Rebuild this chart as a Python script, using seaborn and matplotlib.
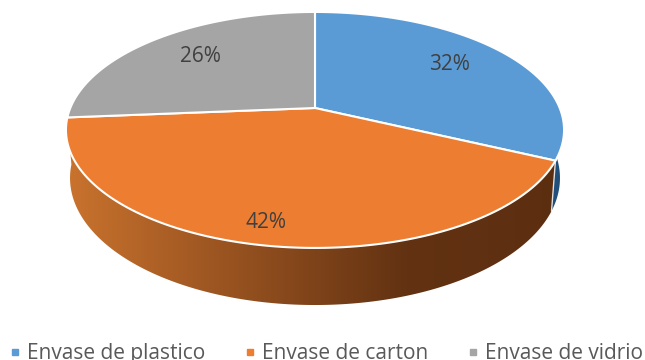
import numpy as np
import matplotlib
matplotlib.use("Agg")
import matplotlib.pyplot as plt
import seaborn as sns
from matplotlib.patches import Polygon
from matplotlib.colors import LinearSegmentedColormap

categories = ["Envase de plastico", "Envase de carton", "Envase de vidrio"]
values = [32, 41.7, 26.3]
labels = ["32%", "42%", "26%"]
colors = ["#5B9BD5", "#ED7D31", "#A5A5A5"]

sns.set_theme(style="white")
plt.rcParams["font.family"] = ["Open Sans", "DejaVu Sans"]
palette = sns.color_palette(colors)

fig, ax = plt.subplots(figsize=(6.45, 3.6), dpi=100)
ax.set_position([0, 0, 1, 1])
ax.axis("off")

CX, C = 315.0, 0.186


def project(theta, r, apex, b, d):
    """Perspective view of a disc; theta runs clockwise from the back."""
    x, y = r * np.sin(theta), r * np.cos(theta)
    w = 1 + C * y
    return CX + d * x / w, apex - b * y / w


def top(theta, r=1.0):
    return project(theta, r, 108.0, 113.9, 244.7)


def bottom(theta):
    return project(theta, 1.0, 154.4, 122.6, 240.7)


edges = np.radians(np.concatenate([[0], np.cumsum(values)]) * 3.6)


def wall_path(a0, a1):
    t = np.linspace(a0, a1, 300)
    ut, vt = top(t)
    ub, vb = bottom(t[::-1])
    return np.column_stack([np.r_[ut, ub], np.r_[vt, vb]])


def gradient_wall(a0, a1, cols, z):
    cmap = LinearSegmentedColormap.from_list(
        "wall", [(p, c) for p, c in zip([0, 0.34, 0.68, 1], cols)]
    )
    im = ax.imshow(
        np.linspace(0, 1, 512)[None, :], cmap=cmap, extent=(60, 570, 320, 100),
        aspect="auto", interpolation="bilinear", zorder=z,
    )
    clip = Polygon(wall_path(a0, a1), closed=True, transform=ax.transData)
    im.set_clip_path(clip)


# side wall
gradient_wall(np.radians(70), edges[1], ["#2A5C88", "#2A5C88", "#2A5C88", "#1F4E79"], 1)
gradient_wall(edges[1], edges[2], ["#CB742E", "#975220", "#623212", "#5C2E10"], 1.5)

# seam between the blue and orange walls
su0, sv0 = top(edges[1])
su1, sv1 = bottom(edges[1])
ax.plot([su0, su1], [sv0, sv1], color="white", lw=1.0, alpha=0.8, zorder=2)

# top slices
for i, c in enumerate(palette):
    t = np.linspace(edges[i], edges[i + 1], 200)
    u, v = top(t)
    ax.fill(np.r_[CX, u], np.r_[108.0, v], facecolor=c, edgecolor="white", lw=1.5, joinstyle="round", zorder=3)

# data labels
label_pos = [(450, 64), (266, 223), (200, 57)]
for s, (x, y) in zip(labels, label_pos):
    ax.text(x, y, s, ha="center", va="center", fontsize=15, color="#404040", zorder=4)

# legend
marker_x = [14.5, 249.5, 472.5]
text_x = [27, 262, 485]
for name, c, mx, tx in zip(categories, palette, marker_x, text_x):
    ax.plot([mx], [352], marker="s", ms=5, color=c, ls="none", zorder=4)
    ax.text(tx, 359, name, ha="left", va="baseline", fontsize=15, color="#595959", zorder=4)

ax.set_xlim(0, 645)
ax.set_ylim(360, 0)

fig.savefig("out.png", dpi=100)
